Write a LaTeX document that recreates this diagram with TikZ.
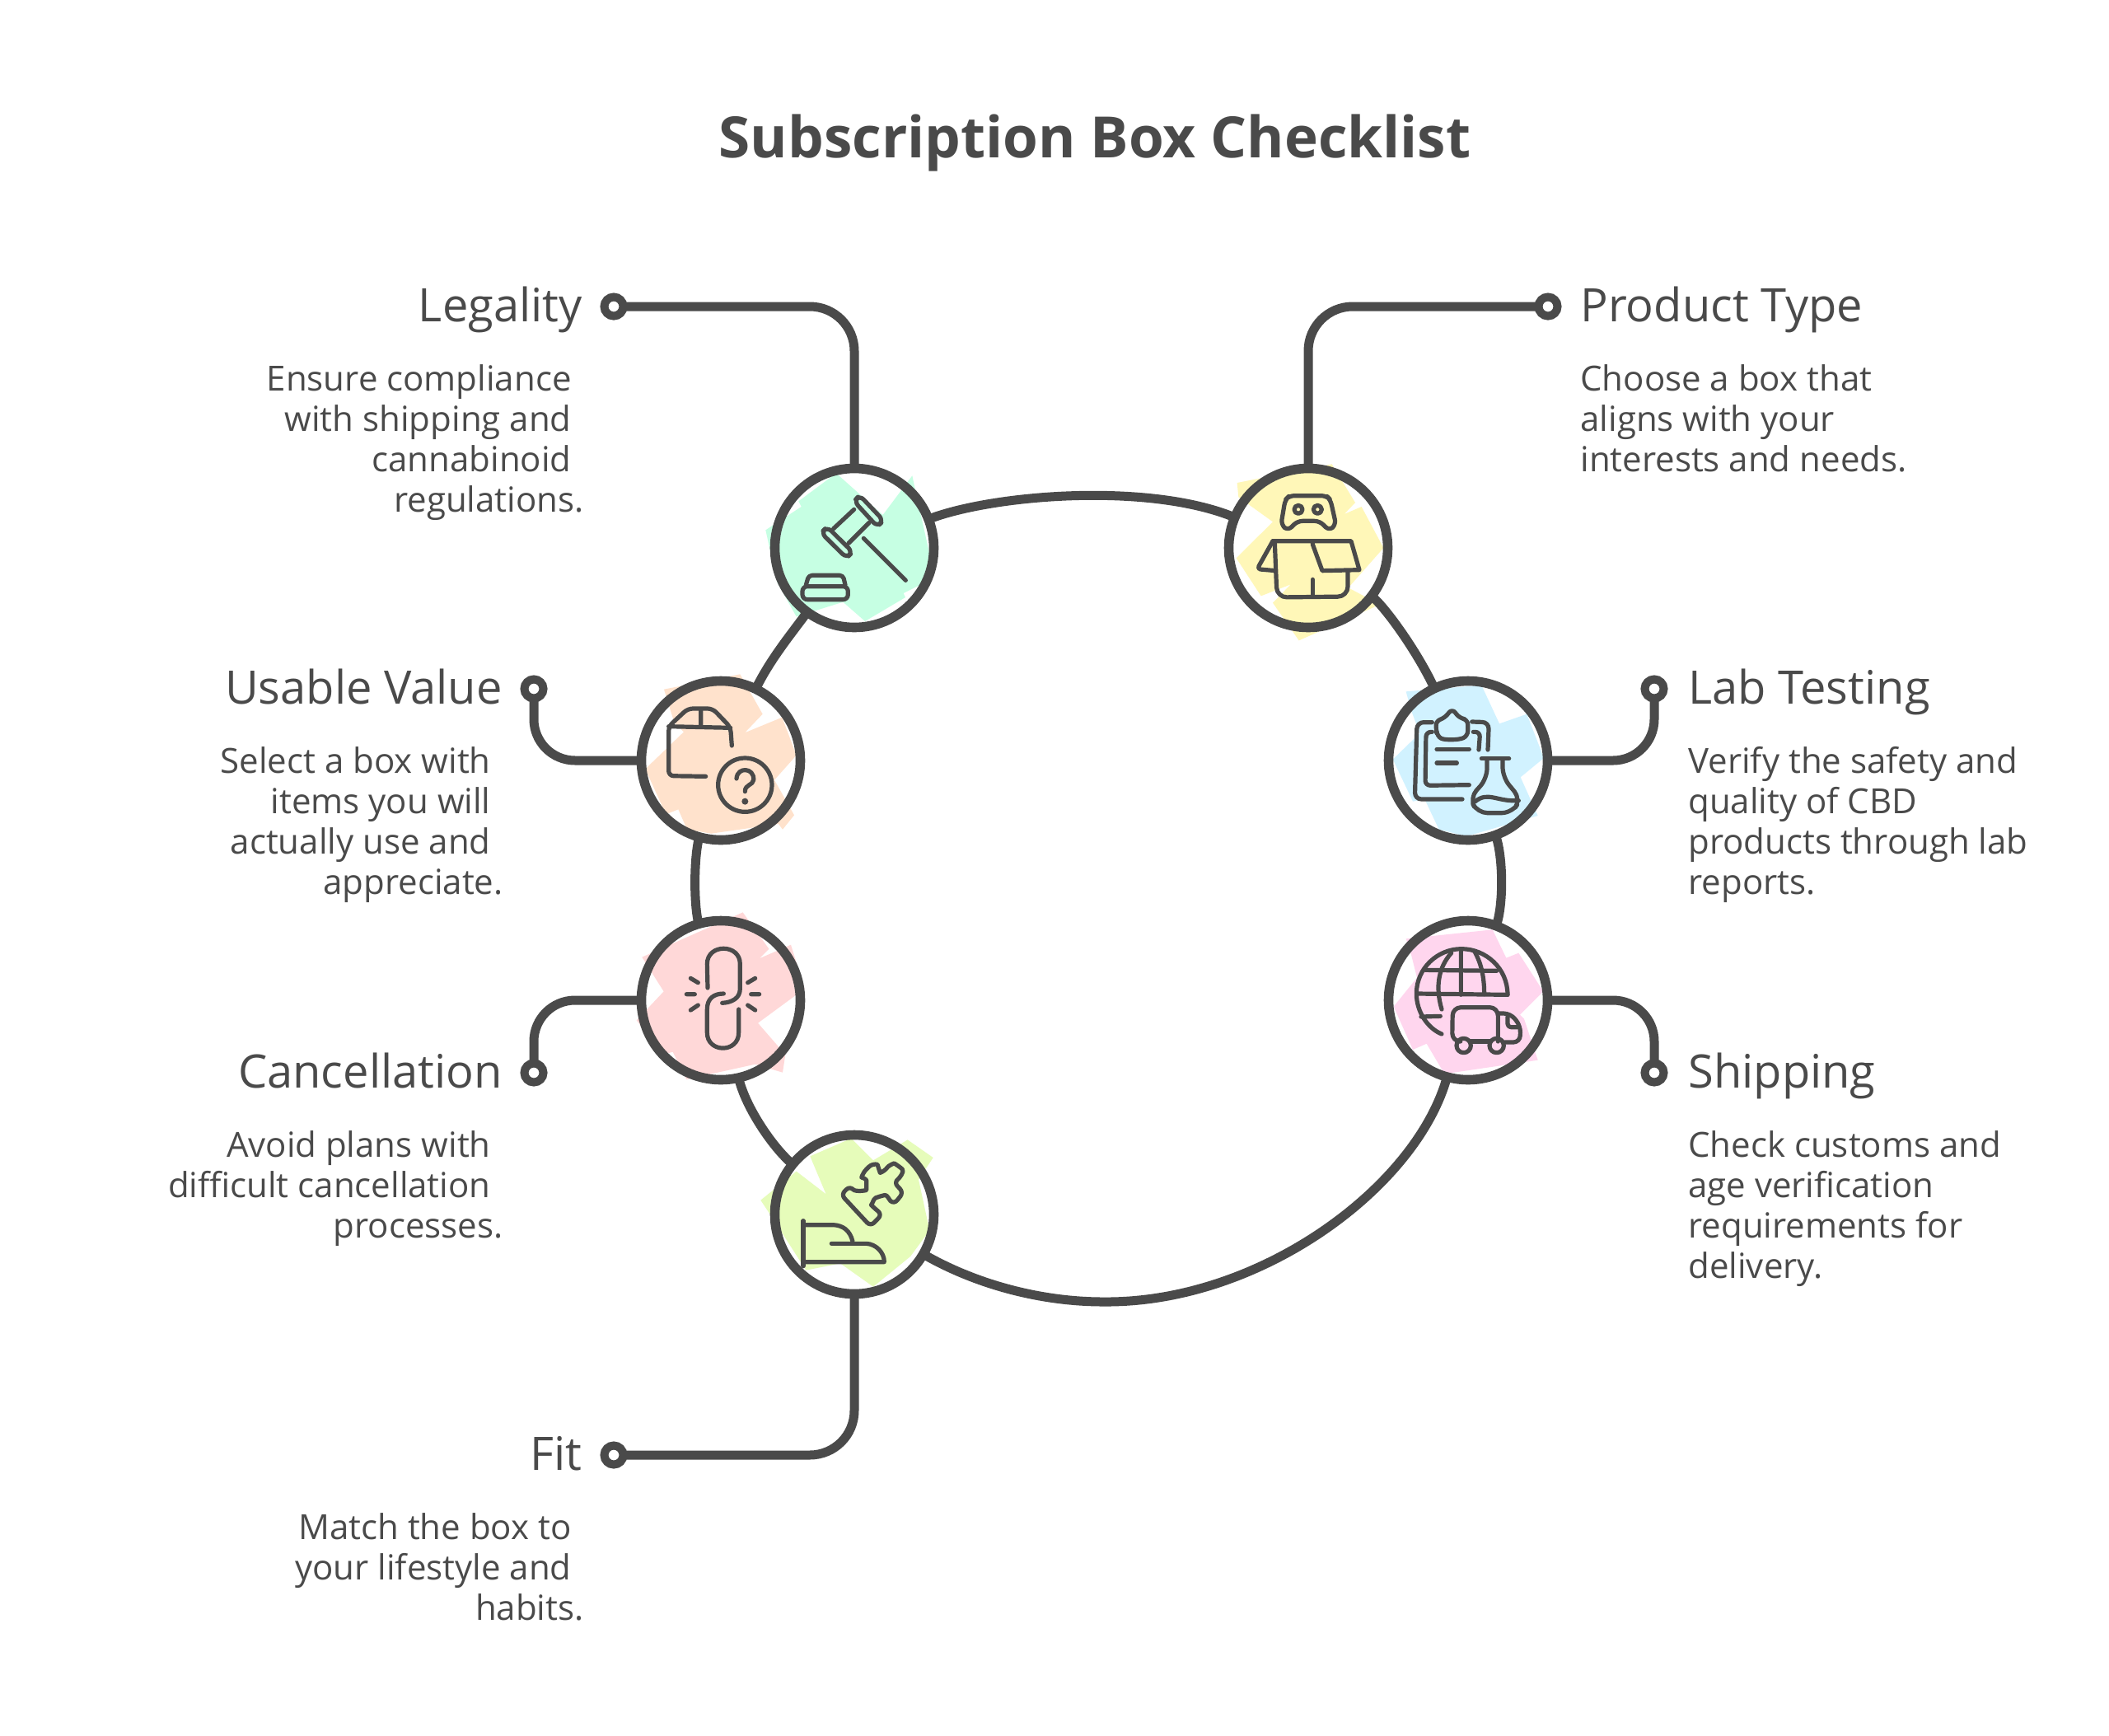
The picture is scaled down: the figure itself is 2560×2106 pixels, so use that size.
\documentclass[tikz,border=0pt]{standalone}
\usepackage{fontspec}
\setmainfont{Open Sans}
\definecolor{ink}{HTML}{4A4A4A}
\newcommand{\rr}{\rule{7.5pt}{0pt}}
\tikzset{
  x=0.5pt,y=-0.5pt,
  conn/.style={draw=ink,line width=5.5pt},
  disc/.style={circle,draw=ink,line width=5.8pt,minimum size=96.5pt,inner sep=0pt,outer sep=0pt},
  pin/.style={circle,draw=ink,line width=5pt,fill=white,minimum size=11.5pt,inner sep=0pt,outer sep=0pt},
  icon/.style={draw=ink,line width=2.6pt,line cap=round,line join=round},
  head/.style={text=ink,font=\fontsize{28}{32}\selectfont,inner sep=0pt},
  bodyl/.style={text=ink,font=\fontsize{21}{24.5}\selectfont,inner sep=0pt,align=left,anchor=north west},
  bodyr/.style={text=ink,font=\fontsize{21}{24.5}\selectfont,inner sep=0pt,align=right,anchor=north east},
  zoomed/.style={shift={#1},scale=1/3},
}
\begin{document}
\begin{tikzpicture}
\useasboundingbox (0,0) rectangle (2560,2106);
\fill[white] (0,0) rectangle (2560,2106);
% colour patches
\begin{scope}[zoomed={(900,540)}]
\fill[fill={rgb,255:red,198;green,255;blue,227}] (88,310)--(218,225)--(208,205)--(345,103)--(515,255)--(622,112)--(630,150)--(690,420)--(650,510)--(590,540)--(597,555)--(450,642)--(370,572)--(200,625)--(130,500)--cycle;
\draw[icon] (445,340)--(598,493);
\draw[icon,rounded corners=3.5pt] (410,205)--(430,183)--(517,275)--(495,298)--cycle;
\draw[icon,rounded corners=3.5pt] (290,320)--(312,298)--(405,390)--(383,412)--cycle;
\draw[icon] (335,305)--(410,235) (465,283)--(390,358);
\draw[icon,rounded corners=2pt] (235,510)--(245,475)--(370,475)--(378,510);
\draw[icon,rounded corners=3pt] (222,515)--(388,515)--(388,563)--(222,563)--cycle;
\end{scope}
\begin{scope}[zoomed={(1470,540)}]
\fill[fill={rgb,255:red,255;green,247;blue,184}] (95,138)--(440,70)--(525,210)--(485,252)--(548,225)--(628,375)--(500,520)--(603,575)--(595,590)--(320,712)--(225,575)--(290,508)--(182,550)--(92,412)--(225,280)--(100,190)--cycle;
\draw[icon,rounded corners=3pt] (285,185)--(420,185)--(435,200)--(455,290)--(430,312)--(395,277)--(315,277)--(280,312)--(255,290)--(270,200)--cycle;
\draw[icon] (318,235) circle[radius=15] (388,235) circle[radius=15];
\draw[icon] (225,350)--(510,350)--(540,455)--(405,458)--(370,362);
\draw[icon,rounded corners=2pt] (225,350)--(168,452)--(235,458);
\draw[icon,rounded corners=6pt] (232,355)--(240,555)--(498,552)--(498,458);
\draw[icon] (370,490)--(370,550);
\end{scope}
\begin{scope}[zoomed={(760,810)}]
\fill[fill={rgb,255:red,255;green,226;blue,204}] (138,80)--(415,25)--(497,170)--(432,238)--(568,182)--(620,320)--(540,410)--(612,538)--(570,590)--(555,570)--(310,605)--(222,590)--(190,517)--(145,535)--(70,370)--(210,235)--(175,200)--cycle;
\draw[icon,rounded corners=3pt] (385,285)--(380,218)--(315,150)--(225,150)--(155,215)--(155,395)--(290,397);
\draw[icon] (155,215)--(380,220) (272,155)--(272,215);
\draw[icon] (433,428) circle[radius=98];
\draw[icon] (402,405) .. controls (405,360) and (468,365) .. (464,410) .. controls (462,430) and (433,425) .. (433,452);
\fill[ink] (433,488) circle[radius=12];
\end{scope}
\begin{scope}[zoomed={(1670,810)}]
\fill[fill={rgb,255:red,209;green,242;blue,255}] (110,88)--(385,65)--(450,205)--(550,170)--(612,330)--(527,400)--(590,540)--(330,615)--(230,590)--(178,480)--(135,488)--(62,335)--(160,240)--(130,160)--cycle;
\draw[icon,rounded corners=4pt] (205,200)--(150,200)--(142,480)--(315,480);
\draw[icon,rounded corners=4pt] (350,198)--(412,200)--(408,300);
\draw[icon,rounded corners=3pt] (205,235)--(183,235)--(180,430)--(340,428);
\draw[icon,rounded corners=3pt] (355,235)--(380,235)--(375,300);
\draw[icon,rounded corners=3pt] (222,250)--(218,195)--(250,185)--(278,150)--(305,185)--(335,190)--(335,250) .. controls (300,265) and (250,265) .. (222,250)--cycle;
\draw[icon] (222,298)--(340,298) (222,348)--(295,348);
\draw[icon] (385,332)--(485,332);
\draw[icon,rounded corners=6pt] (405,340)--(405,405)--(342,475)--(370,530)--(495,530)--(528,480)--(462,400)--(462,340);
\draw[icon] (362,488) .. controls (410,450) and (440,490) .. (520,485);
\end{scope}
\begin{scope}[zoomed={(760,1100)}]
\fill[fill={rgb,255:red,255;green,216;blue,216}] (58,185)--(425,22)--(520,155)--(485,190)--(600,140)--(650,300)--(480,425)--(580,540)--(570,605)--(470,575)--(220,630)--(170,530)--(135,540)--(38,415)--(137,310)--cycle;
\draw[icon] (297,297) -- (295,210) .. controls (295,135) and (415,135) .. (415,210) -- (415,300) .. controls (415,335) and (385,350) .. (350,352);
\draw[icon] (355,318) .. controls (320,318) and (295,335) .. (295,375) -- (295,460) .. controls (295,535) and (410,535) .. (410,460) -- (410,375);
\draw[icon] (235,262)--(262,278) (220,320)--(250,320) (235,378)--(262,360) (470,262)--(443,278) (455,320)--(485,320) (470,378)--(443,360);
\end{scope}
\begin{scope}[zoomed={(1670,1100)}]
\fill[fill={rgb,255:red,255;green,214;blue,238}] (110,118)--(425,85)--(475,188)--(520,170)--(610,310)--(525,395)--(540,410)--(590,560)--(250,610)--(185,500)--(135,522)--(65,365)--(150,260)--(130,180)--cycle;
\draw[icon] (480,322) .. controls (480,225) and (400,155) .. (312,155) .. controls (225,155) and (148,225) .. (148,318) .. controls (148,385) and (190,445) .. (240,465);
\draw[icon] (150,318)--(480,322) (310,155)--(310,322) (180,232)--(440,235) (165,402)--(235,400);
\draw[icon] (275,170) .. controls (230,220) and (215,290) .. (240,375);
\draw[icon] (360,165) .. controls (385,210) and (395,260) .. (395,320);
\draw[icon,rounded corners=5pt] (295,492)--(278,492)--(280,368)--(445,368)--(445,492);
\draw[icon] (345,492)--(415,492);
\draw[icon,rounded corners=4pt] (445,390)--(490,390)--(527,435)--(525,495)--(470,495);
\draw[icon] (320,507) circle[radius=26] (440,507) circle[radius=26];
\draw[icon,rounded corners=2pt] (480,402)--(480,440)--(515,440);
\end{scope}
\begin{scope}[zoomed={(920,1360)}]
\fill[fill={rgb,255:red,230;green,252;blue,186}] (10,290)--(140,185)--(248,268)--(190,130)--(340,65)--(420,145)--(545,70)--(638,135)--(585,215)--(625,400)--(555,495)--(420,605)--(300,520)--(175,545)--(50,350)--cycle;
\draw[icon,rounded corners=3pt] (303,270)--(335,238) .. controls (355,260) and (395,255) .. (395,235) .. controls (395,215) and (378,205) .. (382,190)--(418,155) .. controls (435,160) and (445,190) .. (462,185) .. controls (475,165) and (495,155) .. (512,165) .. controls (535,185) and (515,210) .. (495,225)--(530,262)--(495,305) .. controls (480,290) and (470,270) .. (445,275) .. controls (420,285) and (415,310) .. (425,320)--(452,342)--(410,385)--cycle;
\draw[icon] (165,365)--(165,530);
\draw[icon] (168,380)--(275,380) .. controls (310,382) and (335,400) .. (345,440);
\draw[icon] (268,448)--(395,448) .. controls (430,450) and (460,480) .. (460,515)--(168,515);
\end{scope}
% discs
\node[disc] (legal) at (1037,665) {};
\node[disc] (product) at (1588,665) {};
\node[disc] (usable) at (875,923) {};
\node[disc] (lab) at (1782,923) {};
\node[disc] (cancel) at (875,1214) {};
\node[disc] (ship) at (1782,1214) {};
\node[disc] (fit) at (1037,1474) {};
\coordinate (bot) at (1339,1580);
% connectors
\draw[conn,rounded corners=27pt] (745,372) coordinate (aLegal) -| (legal);
\draw[conn,rounded corners=27pt] (1879,372) coordinate (aProduct) -| (product);
\draw[conn,rounded corners=25pt] (648,836) coordinate (aUsable) |- (usable);
\draw[conn,rounded corners=25pt] (2008,836) coordinate (aLab) |- (lab);
\draw[conn,rounded corners=25pt] (648,1302) coordinate (aCancel) |- (cancel);
\draw[conn,rounded corners=25pt] (2008,1302) coordinate (aShip) |- (ship);
\draw[conn,rounded corners=27pt] (745,1766) coordinate (aFit) -| (fit);
% pins
\node[pin] (pLegal) at (aLegal) {};
\node[pin] (pProduct) at (aProduct) {};
\node[pin] (pUsable) at (aUsable) {};
\node[pin] (pLab) at (aLab) {};
\node[pin] (pCancel) at (aCancel) {};
\node[pin] (pShip) at (aShip) {};
\node[pin] (pFit) at (aFit) {};
% ring
\draw[conn] (legal) .. controls (1205,600) and (1395,585) .. (product);
\draw[conn] (product) .. controls (1680,735) and (1720,790) .. (lab);
\draw[conn] (lab) .. controls (1825,1040) and (1825,1100) .. (ship);
\draw[conn] (ship) .. controls (1720,1440) and (1530,1582) .. (bot) .. controls (1270,1580) and (1190,1562) .. (fit);
\draw[conn] (fit) .. controls (940,1395) and (905,1345) .. (cancel);
\draw[conn] (cancel) .. controls (842,1100) and (842,1040) .. (usable);
\draw[conn] (usable) .. controls (935,800) and (960,770) .. (legal);
% text
\node[head,font=\fontsize{34.6}{40}\selectfont\bfseries,anchor=base] (title) at (1329,191) {Subscription Box Checklist};
\node[head,anchor=base east] (hLegal) at (707,390) {Legality};
\node[head,anchor=base west] (hProduct) at (1918,390) {Product Type};
\node[head,anchor=base east] (hUsable) at (610,854) {Usable Value};
\node[head,anchor=base west] (hLab) at (2049,854) {Lab Testing};
\node[head,anchor=base east] (hCancel) at (610,1320) {Cancellation};
\node[head,anchor=base west] (hShip) at (2049,1320) {Shipping};
\node[head,anchor=base east] (hFit) at (707,1784) {Fit};
\node[bodyr] (dLegal) at (709,442) {Ensure compliance\rr\\with shipping and\rr\\cannabinoid\rr\\regulations.};
\node[bodyl] (dProduct) at (1918,442) {Choose a box that\\aligns with your\\interests and needs.};
\node[bodyr] (dUsable) at (611,906) {Select a box with\rr\\items you will\rr\\actually use and\rr\\appreciate.};
\node[bodyl] (dLab) at (2049,906) {Verify the safety and\\quality of CBD\\products through lab\\reports.};
\node[bodyr] (dCancel) at (611,1372) {Avoid plans with\rr\\difficult cancellation\rr\\processes.};
\node[bodyl] (dShip) at (2049,1372) {Check customs and\\age verification\\requirements for\\delivery.};
\node[bodyr] (dFit) at (709,1836) {Match the box to\rr\\your lifestyle and\rr\\habits.};
\end{tikzpicture}
\end{document}
